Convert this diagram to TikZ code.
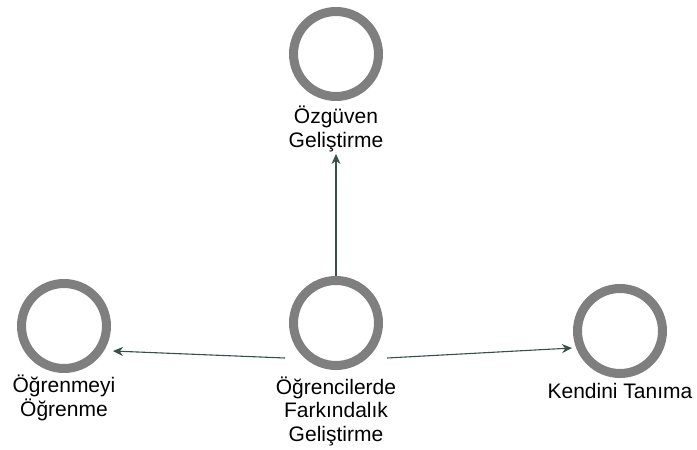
\documentclass[tikz,border=0pt]{standalone}
\usepackage{fontspec}
\setmainfont{Liberation Sans}
\usetikzlibrary{arrows.meta}
\definecolor{ringgray}{HTML}{7F7F7F}
\definecolor{linkcol}{HTML}{34504A}
\begin{document}
\begin{tikzpicture}[x=1pt,y=-1pt,
  ring/.style={circle,draw=ringgray,line width=9pt,minimum size=85pt,inner sep=0pt,outer sep=4.5pt},
  caption/.style={align=center,font=\fontsize{21}{23.5}\selectfont,inner sep=0pt},
  link/.style={draw=linkcol,line width=1.1pt,-{Stealth[length=10pt,width=9pt]}}]
\useasboundingbox (0,0) rectangle (697,450);
% concept rings
\node[ring] (top) at (336,54) {};
\node[ring] (mid) at (336,323) {};
\node[ring] (lft) at (64,326) {};
\node[ring] (rgt) at (620,331) {};
% captions
\node[caption] (topl) at (336,129) {Özgüven\\Geliştirme};
\node[caption] (midl) at (336,411) {Öğrencilerde\\Farkındalık\\Geliştirme};
\node[caption] (lftl) at (64,398) {Öğrenmeyi\\Öğrenme};
\node[caption] (rgtl) at (620,391) {Kendini Tanıma};
% connectors
\draw[link] (mid.north) -- ([yshift=-53pt]top.south);
\draw[link] ([xshift=-4pt,yshift=-35pt]mid.west) -- ([xshift=2pt,yshift=-25pt]lft.east);
\draw[link] ([xshift=4pt,yshift=-35pt]mid.east) -- ([xshift=-1pt,yshift=-17pt]rgt.west);
\end{tikzpicture}
\end{document}
